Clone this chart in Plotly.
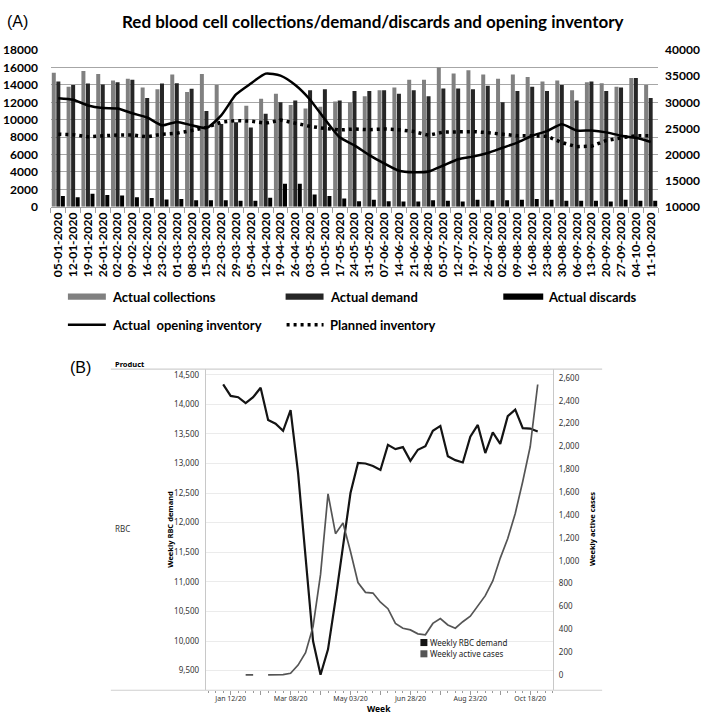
import plotly.graph_objects as go

W, H = 709, 722

# ---------------- Panel A data ----------------
week_labels = ["05-01-2020", "12-01-2020", "19-01-2020", "26-01-2020", "02-02-2020", "09-02-2020",
               "16-02-2020", "23-02-2020", "01-03-2020", "08-03-2020", "15-03-2020", "22-03-2020",
               "29-03-2020", "05-04-2020", "12-04-2020", "19-04-2020", "26-04-2020", "03-05-2020",
               "10-05-2020", "17-05-2020", "24-05-2020", "31-05-2020", "07-06-2020", "14-06-2020",
               "21-06-2020", "28-06-2020", "05-07-2020", "12-07-2020", "19-07-2020", "26-07-2020",
               "02-08-2020", "09-08-2020", "16-08-2020", "23-08-2020", "30-08-2020", "06-09-2020",
               "13-09-2020", "20-09-2020", "27-09-2020", "04-10-2020", "11-10-2020"]

actual_collections = [15400, 13800, 15600, 15250, 14500, 14700, 13700, 13500, 15200, 13200,
                      15250, 14000, 12000, 11600, 12400, 13000, 11700, 11300, 11500, 12100,
                      12000, 12700, 13400, 13700, 14600, 14600, 16000, 15300, 15700, 15200,
                      14700, 15200, 14900, 14400, 14500, 13400, 14300, 14200, 13800, 14800, 14000]

actual_demand = [14400, 14000, 14150, 14050, 14300, 14600, 12500, 14150, 14200, 13550,
                 11000, 9500, 9700, 9100, 10700, 12000, 12200, 13400, 13500, 12200,
                 13300, 13300, 13400, 13000, 13400, 12700, 13600, 13600, 13500, 13900,
                 12000, 13300, 13800, 13300, 14000, 12200, 14400, 13300, 13700, 14800, 12500]

actual_discards = [1250, 1100, 1500, 1350, 1300, 1100, 1000, 850, 900, 750,
                   750, 750, 700, 700, 1050, 2650, 2650, 1400, 1250, 950,
                   650, 800, 650, 600, 600, 750, 700, 600, 800, 750,
                   750, 800, 900, 800, 700, 700, 700, 600, 800, 700, 700]

opening_inventory = [30800, 30500, 29400, 28900, 28800, 27900, 27100, 25600, 26250, 25600,
                     25100, 27500, 31500, 33600, 35500, 35100, 33300, 30500, 26750, 23300,
                     21750, 19900, 18300, 16900, 16600, 16750, 17900, 19100, 19600, 20300,
                     21300, 22300, 23600, 24500, 25800, 24600, 24600, 24250, 23600, 23200, 22400]

planned_inventory = [23900, 23800, 23400, 23600, 23750, 23750, 23400, 23900, 24100, 24600,
                     25200, 26200, 26500, 26400, 26000, 26600, 26000, 25400, 25000, 24700,
                     24900, 24750, 24900, 24750, 24400, 23700, 24300, 24300, 24400, 24200,
                     23900, 23600, 23600, 23500, 22300, 21500, 21600, 22700, 23200, 23600, 23600]

# ---------------- Panel B data ----------------
b_weeks = ["2020-01-05", "2020-01-12", "2020-01-19", "2020-01-26", "2020-02-02", "2020-02-09",
           "2020-02-16", "2020-02-23", "2020-03-01", "2020-03-08", "2020-03-15", "2020-03-22",
           "2020-03-29", "2020-04-05", "2020-04-12", "2020-04-19", "2020-04-26", "2020-05-03",
           "2020-05-10", "2020-05-17", "2020-05-24", "2020-05-31", "2020-06-07", "2020-06-14",
           "2020-06-21", "2020-06-28", "2020-07-05", "2020-07-12", "2020-07-19", "2020-07-26",
           "2020-08-02", "2020-08-09", "2020-08-16", "2020-08-23", "2020-08-30", "2020-09-06",
           "2020-09-13", "2020-09-20", "2020-09-27", "2020-10-04", "2020-10-11", "2020-10-18",
           "2020-10-25"]

weekly_rbc_demand = [14335, 14142, 14120, 14020, 14120, 14280, 13734, 13673, 13552, 13900,
                     12840, 11350, 10000, 9430, 9860, 10700, 11600, 12500, 13010, 13000,
                     12957, 12890, 13315, 13243, 13276, 13045, 13232, 13293, 13552, 13635,
                     13122, 13056, 13017, 13452, 13651, 13177, 13524, 13331, 13800, 13910,
                     13596, 13590, 13540]

weekly_active_cases = [None, None, None, 0, 0, None, 0, 1, 3, 14,
                       86, 194, 423, 880, 1586, 1237, 1331, 1080, 809, 723,
                       717, 637, 580, 451, 409, 394, 360, 351, 451, 494,
                       437, 409, 466, 514, 609, 694, 823, 1023, 1194, 1414,
                       1694, 2000, 2543]

b_tick_dates = ["2020-01-12", "2020-02-09", "2020-03-08", "2020-04-05", "2020-05-03", "2020-05-31",
                "2020-06-28", "2020-07-26", "2020-08-23", "2020-09-20", "2020-10-18"]
b_tick_text = ["Jan 12/20", "", "Mar 08/20", "", "May 03/20", "", "Jun 28/20", "", "Aug 23/20", "",
               "Oct 18/20"]

left_a_ticks = [0, 2000, 4000, 6000, 8000, 10000, 12000, 14000, 16000, 18000]
right_a_ticks = [10000, 15000, 20000, 25000, 30000, 35000, 40000]
left_b_ticks = [9500, 10000, 10500, 11000, 11500, 12000, 12500, 13000, 13500, 14000, 14500]
right_b_ticks = [0, 200, 400, 600, 800, 1000, 1200, 1400, 1600, 1800, 2000, 2200, 2400, 2600]


def px(x):
    return x / W


def py(y):
    return 1 - y / H


FA = "Lato"
FB = "Noto Sans"
C_COLL = "#808080"
C_DEM = "#262626"
C_DISC = "#000000"

fig = go.Figure()

# Panel A bars
fig.add_trace(go.Bar(x=week_labels, y=actual_collections, name="Actual collections",
                     marker=dict(color=C_COLL, line=dict(width=0)), xaxis="x", yaxis="y"))
fig.add_trace(go.Bar(x=week_labels, y=actual_demand, name="Actual demand",
                     marker=dict(color=C_DEM, line=dict(width=0)), xaxis="x", yaxis="y"))
fig.add_trace(go.Bar(x=week_labels, y=actual_discards, name="Actual discards",
                     marker=dict(color=C_DISC, line=dict(width=0)), xaxis="x", yaxis="y"))
# Panel A lines
fig.add_trace(go.Scatter(x=week_labels, y=opening_inventory, name="Actual opening inventory",
                         mode="lines", line=dict(color="black", width=2.5, shape="spline", smoothing=0.6),
                         xaxis="x", yaxis="y2"))
fig.add_trace(go.Scatter(x=week_labels, y=planned_inventory, name="Planned inventory",
                         mode="lines", line=dict(color="black", width=3.5, dash="3px,4px"),
                         xaxis="x", yaxis="y2"))

# Panel B lines
fig.add_trace(go.Scatter(x=b_weeks, y=weekly_rbc_demand, name="Weekly RBC demand", mode="lines",
                         line=dict(color="#141414", width=2.2), xaxis="x2", yaxis="y3"))
fig.add_trace(go.Scatter(x=b_weeks, y=weekly_active_cases, name="Weekly active cases", mode="lines",
                         line=dict(color="#555555", width=1.7), connectgaps=False,
                         xaxis="x2", yaxis="y4"))

tickA = dict(family=FA, size=12, color="black", weight="bold")
tickB = dict(family=FB, size=8, color="#333333")

fig.update_layout(
    width=W, height=H, autosize=False,
    margin=dict(l=0, r=0, t=0, b=0),
    paper_bgcolor="white", plot_bgcolor="white",
    showlegend=False,
    barmode="group", bargap=0.08, bargroupgap=0.12,
    xaxis=dict(domain=[px(50), px(658)], anchor="y", type="category", range=[-0.5, 40.5],
               tickangle=-90, tickfont=dict(family=FA, size=12, color="black", weight="bold"),
               ticks="outside", tickson="boundaries",
               ticklen=5, tickcolor="#a0a0a0", showline=True, linecolor="#a0a0a0",
               showgrid=False, zeroline=False),
    yaxis=dict(domain=[py(203), py(43)], anchor="x", range=[0, 18000], tickvals=left_a_ticks,
               tickformat="d", tickfont=tickA, showgrid=True, gridcolor="#a6a6a6", gridwidth=1,
               zeroline=False, showline=False, ticks="", ticklabelstandoff=12),
    yaxis2=dict(overlaying="y", side="right", anchor="x", range=[10000, 40000],
                tickvals=right_a_ticks, tickformat="d", tickfont=tickA, showgrid=False, zeroline=False,
                showline=False, ticks="", ticklabelstandoff=6),
    xaxis2=dict(domain=[px(205), px(553)], anchor="y3", type="date",
                range=["2019-12-19 16:00", "2020-11-08 12:00"],
                tickvals=b_tick_dates, ticktext=b_tick_text,
                tickfont=dict(family=FB, size=7, color="#333333"),
                ticks="outside", ticklen=4, tickcolor="#9a9a9a", ticklabelstandoff=-3,
                minor=dict(tick0="2020-01-05", dtick=604800000, ticks="outside", ticklen=2,
                           tickcolor="#9a9a9a", showgrid=False),
                showgrid=False, zeroline=False, showline=False),
    yaxis3=dict(domain=[py(696.7), py(368.5)], anchor="x2", range=[9169, 14599],
                tickvals=left_b_ticks, tickformat=",", tickfont=tickB,
                showgrid=True, gridcolor="#ebebeb", gridwidth=1, zeroline=False,
                showline=True, linecolor="#c8c8c8", ticks="", ticklabelstandoff=4),
    yaxis4=dict(overlaying="y3", side="right", anchor="x2", range=[-134, 2680],
                tickvals=right_b_ticks, tickformat=",", tickfont=tickB,
                showgrid=False, zeroline=False, showline=True, linecolor="#c8c8c8",
                ticks="", ticklabelstandoff=3),
)

shapes = []
anns = []


def ann(text, x, y, size, family, xanchor="left", bold=False, angle=0, color="black"):
    anns.append(dict(text=text, x=px(x), y=py(y), xref="paper", yref="paper",
                     xanchor=xanchor, yanchor="middle", showarrow=False, textangle=angle,
                     font=dict(family=family, size=size, color=color,
                               weight="bold" if bold else "normal")))


# Panel A title / label
ann("(A)", 4, 14, 16, "Liberation Sans")
ann("Red blood cell collections/demand/discards and opening inventory", 372, 14, 17, FA,
    xanchor="center", bold=True)

# Panel A legend
legA_font = 13
for (x0, x1, col) in [(67, 105, C_COLL), (285, 323, C_DEM), (503, 543, C_DISC)]:
    shapes.append(dict(type="rect", xref="paper", yref="paper", x0=px(x0), x1=px(x1),
                       y0=py(298), y1=py(291.5), fillcolor=col, line=dict(width=0)))
ann("Actual collections", 109, 295, legA_font, FA, bold=True)
ann("Actual demand", 327, 295, legA_font, FA, bold=True)
ann("Actual discards", 546, 295, legA_font, FA, bold=True)
shapes.append(dict(type="line", xref="paper", yref="paper", x0=px(67), x1=px(105),
                   y0=py(323.5), y1=py(323.5), line=dict(color="black", width=2.5)))
shapes.append(dict(type="line", xref="paper", yref="paper", x0=px(286), x1=px(323),
                   y0=py(323.5), y1=py(323.5), line=dict(color="black", width=3.5, dash="3px,4px")))
ann("Actual  opening inventory", 109, 323.5, legA_font, FA, bold=True)
ann("Planned inventory", 327, 323.5, legA_font, FA, bold=True)

# Panel B frame lines
shapes.append(dict(type="line", xref="paper", yref="paper", x0=px(110), x1=px(602),
                   y0=py(368.8), y1=py(368.8), line=dict(color="#cfcfcf", width=1.2)))
shapes.append(dict(type="line", xref="paper", yref="paper", x0=px(110), x1=px(602),
                   y0=py(696.7), y1=py(696.7), line=dict(color="#cfcfcf", width=1.2)))

# Panel B texts
ann("(B)", 67, 367, 16, "Liberation Sans")
ann("<b>Product</b>", 112, 363.5, 7.5, FB)
ann("RBC", 112, 532, 8, FB, color="#333333")
ann("<b>Weekly RBC demand</b>", 169, 532, 7.5, FB, xanchor="center", angle=-90)
ann("<b>Weekly active cases</b>", 592, 532, 7.5, FB, xanchor="center", angle=-90)
ann("<b>Week</b>", 379, 715, 8.5, FB, xanchor="center")

# Panel B legend
for (yc, col) in [(648, "#141414"), (659.5, "#555555")]:
    shapes.append(dict(type="rect", xref="paper", yref="paper", x0=px(420), x1=px(427),
                       y0=py(yc + 3.6), y1=py(yc - 3.6), fillcolor=col, line=dict(width=0)))
ann("Weekly RBC demand", 428, 648, 8, FB, color="#222222")
ann("Weekly active cases", 428, 659.5, 8, FB, color="#222222")

fig.update_layout(shapes=shapes, annotations=anns)

fig.write_html("out.html",
               config={"displayModeBar": False, "staticPlot": True},
               post_script="document.body.style.margin='0';document.body.style.overflow='hidden';")
